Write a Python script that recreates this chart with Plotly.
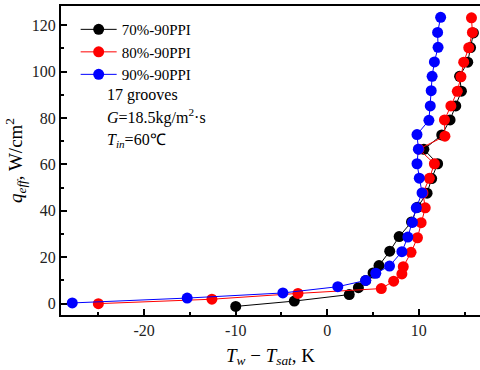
import plotly.graph_objects as go

# Wall superheat (K) and effective heat flux (W/cm2) for three porous-wick samples
dt_70 = [-10.0, -3.6, 2.4, 3.4, 4.2, 5.0, 5.65, 6.82, 7.85, 9.2, 9.83, 10.9, 11.4,
         12.05, 10.55, 12.5, 13.41, 14.03, 14.65, 14.45, 15.34, 15.65, 15.96]
q_70 = [-1.2, 1.1, 3.9, 6.9, 10.0, 13.2, 16.4, 22.6, 28.9, 35.2, 41.5, 47.6, 53.9,
        60.3, 66.5, 72.7, 79.2, 85.2, 91.6, 98.0, 104.1, 110.4, 116.7]

dt_80 = [-25.0, -12.6, -3.2, 5.9, 7.25, 8.15, 8.3, 9.15, 9.85, 10.25, 10.7, 10.45,
         11.15, 11.7, 10.0, 12.85, 12.8, 13.5, 14.2, 14.6, 14.9, 15.45, 15.85, 15.75]
q_80 = [0.0, 1.9, 4.4, 6.5, 9.7, 12.8, 15.9, 22.1, 28.4, 34.9, 41.3, 47.7,
        54.0, 60.3, 66.6, 72.2, 79.2, 85.2, 91.5, 97.8, 104.1, 110.3, 116.9, 123.2]

dt_90 = [-27.85, -15.3, -4.85, 1.15, 4.2, 5.3, 6.8, 8.15, 8.8, 9.3, 9.72, 10.35,
         10.05, 9.8, 9.95, 9.8, 11.1, 11.25, 11.35, 11.45, 11.7, 12.1, 12.05, 12.38]
q_90 = [0.3, 2.4, 4.6, 7.3, 10.0, 13.1, 16.2, 22.4, 28.7, 35.0, 41.3, 47.7,
        54.1, 60.3, 66.6, 72.9, 79.0, 85.2, 91.8, 98.0, 104.2, 110.5, 116.9, 123.4]

series_names = ["70%-90PPI", "80%-90PPI", "90%-90PPI"]
series_colors = ["#000000", "#ff0000", "#0000ff"]

x_tickvals = [-20, -10, 0, 10]
x_ticktext = ["-20", "-10", "0", "10"]
y_tickvals = [0, 20, 40, 60, 80, 100, 120]

notes = ["17 grooves", "<i>G</i>=18.5kg/m<sup>2</sup>·s", "<i>T</i><sub><i>in</i></sub>=60℃"]

FONT = "Liberation Serif, Times New Roman, serif"

fig = go.Figure()
for xs, ys, name, color in zip([dt_70, dt_80, dt_90], [q_70, q_80, q_90],
                               series_names, series_colors):
    fig.add_trace(go.Scatter(
        x=xs, y=ys, name=name, mode="lines+markers",
        line=dict(color=color, width=1),
        marker=dict(color=color, size=11, line=dict(width=0)),
    ))

note_y = [0.712, 0.641, 0.566]
for text, yy in zip(notes, note_y):
    fig.add_annotation(text=text, xref="paper", yref="paper", x=0.105, y=yy,
                       xanchor="left", yanchor="middle", showarrow=False,
                       font=dict(family=FONT, size=16, color="#000000"))

axis_common = dict(
    showgrid=False, zeroline=False, showline=True, linecolor="#000000", linewidth=2,
    ticks="inside", ticklen=6, tickwidth=1.5, tickcolor="#000000",
    tickfont=dict(family=FONT, size=16, color="#222222"),
)

fig.update_layout(
    width=480, height=370,
    margin=dict(l=61, r=0, t=6, b=55),
    paper_bgcolor="#ffffff", plot_bgcolor="#ffffff",
    font=dict(family=FONT, size=15, color="#000000"),
    showlegend=True,
    legend=dict(x=0.035, y=0.977, xanchor="left", yanchor="top",
                bgcolor="rgba(0,0,0,0)", borderwidth=0,
                font=dict(family=FONT, size=15, color="#000000"),
                tracegroupgap=0, itemwidth=36),
    xaxis=dict(
        range=[-29.08, 16.68], tickvals=x_tickvals, ticktext=x_ticktext,
        mirror=True,
        minor=dict(dtick=5, tick0=0, ticks="inside", ticklen=3, tickwidth=1.5,
                   tickcolor="#000000"),
        title=dict(text="<i>T</i><sub><i>w</i></sub> − <i>T</i><sub><i>sat</i></sub>, K",
                   font=dict(family=FONT, size=19, color="#000000"), standoff=10),
        **axis_common,
    ),
    yaxis=dict(
        range=[-4.9, 128.3], tickvals=y_tickvals,
        minor=dict(dtick=10, tick0=0, ticks="inside", ticklen=3, tickwidth=1.5,
                   tickcolor="#000000"),
        title=dict(text="<i>q</i><sub><i>eff</i></sub>, W/cm<sup>2</sup>",
                   font=dict(family=FONT, size=19, color="#000000"), standoff=4),
        **axis_common,
    ),
)

fig.write_html("out.html")
